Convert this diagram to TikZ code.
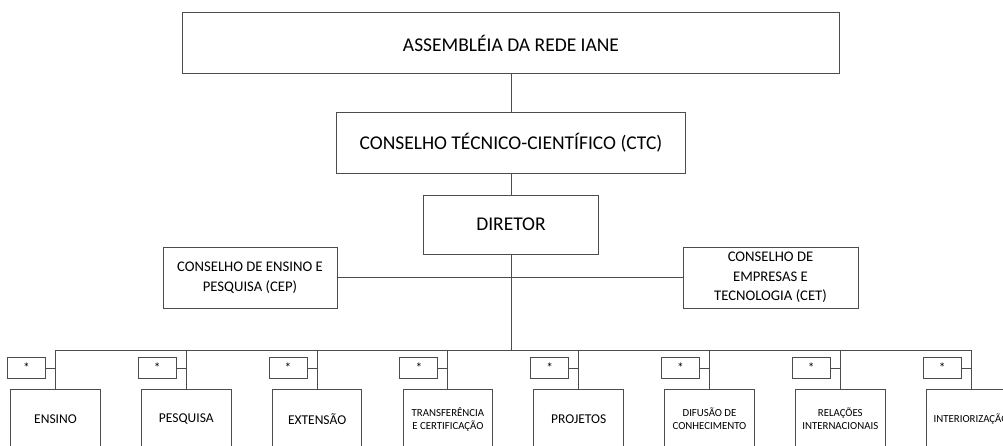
\documentclass[tikz,border=0pt]{standalone}
\usepackage{fontspec}
\setmainfont{Carlito}
\newcommand\topfont{\fontsize{19.5}{23}\selectfont}
\newcommand\midfont{\fontsize{14.7}{19.5}\selectfont}
\newcommand\unitfont{\fontsize{13.5}{16}\selectfont}
\newcommand\unitsmall{\fontsize{10.8}{13}\selectfont}

\begin{document}
\begin{tikzpicture}[x=1pt, y=-1pt, line width=1pt, draw=black!70,
    box/.style={draw=black!70, fill=white, inner sep=0pt, align=center},
    starbox/.style={box, minimum width=38pt, minimum height=21pt, font=\unitfont}]
    \useasboundingbox (0,0) rectangle (1003,445);
    \clip (0,0) rectangle (1003,445);

    % Assembly, council and director
    \node (asm) at (511,43) [box, minimum width=657pt, minimum height=61pt, font=\topfont] {ASSEMBLÉIA DA REDE IANE};
    \node (ctc) at (511,142.5) [box, minimum width=349pt, minimum height=61pt, font=\topfont] {CONSELHO TÉCNICO-CIENTÍFICO (CTC)};
    \node (dir) at (511,224.5) [box, minimum width=175pt, minimum height=59pt, font=\topfont] {DIRETOR};
    \draw (asm) -- (ctc);
    \draw (ctc) -- (dir);

    % Councils beside the director
    \node (cep) at (250,277.5) [box, minimum width=174pt, minimum height=61pt, font=\midfont] {CONSELHO DE ENSINO E\\PESQUISA (CEP)};
    \node (cet) at (770.5,277.5) [box, minimum width=175pt, minimum height=61pt, font=\midfont] {CONSELHO DE\\EMPRESAS E\\TECNOLOGIA (CET)};
    \draw (cep) -- (cet);

    % Units under the director
    \coordinate (bus) at (511,350);
    \draw (dir) -- (bus);
    \foreach \i/\x/\f/\txt in {1/55.5/\unitfont/ENSINO, 2/186.3/\unitfont/PESQUISA,
        3/317.1/\unitfont/EXTENSÃO, 4/447.9/\unitsmall/TRANSFERÊNCIA\\E CERTIFICAÇÃO,
        5/578.7/\unitfont/PROJETOS, 6/709.5/\unitsmall/DIFUSÃO DE\\CONHECIMENTO,
        7/840.3/\unitsmall/RELAÇÕES\\INTERNACIONAIS, 8/971.1/\unitsmall/INTERIORIZAÇÃO}
    {
        \node (u\i) at (\x,419) [box, minimum width=89.5pt, minimum height=60pt, font=\f] {\txt};
        \node (s\i) at ({\x-29},368) [starbox] {*};
        \draw (u\i.north) -- (u\i.north |- bus);
        \draw (s\i) -- (s\i -| u\i.north);
    }
    \draw (u1.north |- bus) -- (u8.north |- bus);
\end{tikzpicture}
\end{document}
